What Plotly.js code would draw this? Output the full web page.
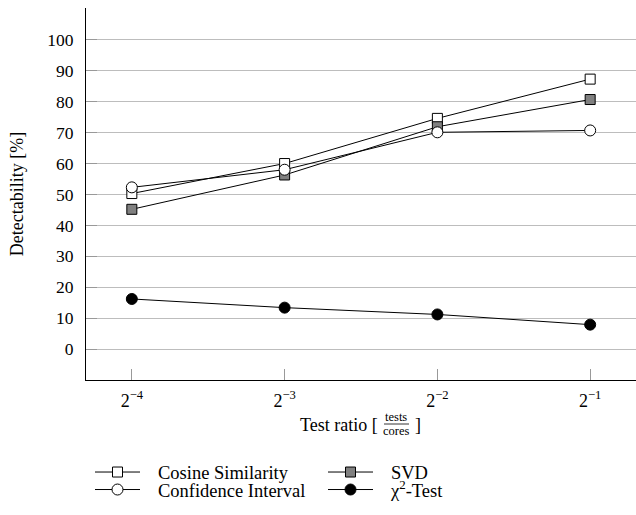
<!DOCTYPE html>
<html>
<head>
<meta charset="utf-8">
<script src="https://cdn.plot.ly/plotly-3.0.1.min.js"></script>
<style>html,body{margin:0;padding:0;background:#fff;}#chart{width:636px;height:515px;}</style>
</head>
<body>
<div id="chart"></div>
<script>
// Test ratios (tests / cores)
const testRatios = [0.0625, 0.125, 0.25, 0.5];
const tickLabels = ['2<sup>\u22124</sup>', '2<sup>\u22123</sup>', '2<sup>\u22122</sup>', '2<sup>\u22121</sup>'];
// Detectability [%]
const cosineSimilarity   = [50.3, 60.0, 74.6, 87.3];
const svd                = [45.2, 56.3, 71.9, 80.7];
const confidenceInterval = [52.3, 58.0, 70.1, 70.7];
const chiSquareTest      = [16.2, 13.4, 11.2, 7.9];
const yTicks = [0, 10, 20, 30, 40, 50, 60, 70, 80, 90, 100];

const FONT = 'Liberation Serif';
const FS = 18;
const LFS = 18.5;

function series(name, y, symbol, fill, size, legendId) {
  return {
    type: 'scatter', mode: 'lines+markers', name: name, legend: legendId,
    x: testRatios, y: y,
    line: {color: '#000', width: 1},
    marker: {symbol: symbol, size: size, color: fill, line: {color: '#000', width: 1}}
  };
}

const GAP = '\u2002\u2009';
const data = [
  series(GAP + 'Cosine Similarity', cosineSimilarity, 'square', '#fff', 10, 'legend'),
  series(GAP + 'SVD', svd, 'square', '#808080', 10, 'legend'),
  series(GAP + 'Confidence Interval', confidenceInterval, 'circle', '#fff', 11, 'legend2'),
  series(GAP + '\u03C7<sup>2</sup>-Test', chiSquareTest, 'circle', '#000', 11, 'legend2')
];

const L = 86, R = 636, T = 8, B = 380;
const px = v => (v - L) / (R - L);
const py = v => (B - v) / (B - T);

function legendAt(topPx) {
  return {
    orientation: 'h', x: px(90), xanchor: 'left', y: py(topPx), yanchor: 'top',
    font: {family: FONT, size: LFS}, entrywidth: 173, itemwidth: 45,
    bgcolor: 'rgba(0,0,0,0)', borderwidth: 0, traceorder: 'normal'
  };
}

const layout = {
  width: 636, height: 515,
  margin: {l: L, r: 636 - R, t: T, b: 515 - B, pad: 0},
  paper_bgcolor: '#fff', plot_bgcolor: '#fff',
  font: {family: FONT, size: FS, color: '#000'},
  showlegend: true,
  xaxis: {
    type: 'log',
    range: [Math.log10(Math.pow(2, -4.3)), Math.log10(Math.pow(2, -0.7))],
    tickvals: testRatios, ticktext: tickLabels,
    showgrid: false, zeroline: false,
    showline: true, linecolor: '#000', linewidth: 1,
    ticks: 'inside', ticklen: 11, tickcolor: '#999', tickwidth: 1,
    tickfont: {family: FONT, size: 18},
    ticklabelstandoff: 4,
    fixedrange: true
  },
  yaxis: {
    range: [-10, 110.3],
    tickvals: yTicks,
    showgrid: true, gridcolor: '#bdbdbd', gridwidth: 1,
    zeroline: false,
    showline: true, linecolor: '#000', linewidth: 1,
    ticks: 'inside', ticklen: 11, tickcolor: '#999', tickwidth: 1,
    tickfont: {family: FONT, size: 17.5},
    ticklabelstandoff: 8,
    title: {text: 'Detectability [%]', font: {family: FONT, size: FS}, standoff: 18},
    fixedrange: true
  },
  legend: legendAt(453.5),
  legend2: legendAt(471),
  annotations: [
    {xref: 'paper', yref: 'paper', x: px(380), y: py(425), xanchor: 'right', yanchor: 'middle',
     text: 'Test ratio [', showarrow: false, font: {family: FONT, size: FS}},
    {xref: 'paper', yref: 'paper', x: px(396), y: py(417), xanchor: 'center', yanchor: 'middle',
     text: 'tests', showarrow: false, font: {family: FONT, size: 12.5}},
    {xref: 'paper', yref: 'paper', x: px(396), y: py(431), xanchor: 'center', yanchor: 'middle',
     text: 'cores', showarrow: false, font: {family: FONT, size: 12.5}},
    {xref: 'paper', yref: 'paper', x: px(413), y: py(425), xanchor: 'left', yanchor: 'middle',
     text: ']', showarrow: false, font: {family: FONT, size: FS}}
  ],
  shapes: [
    {type: 'line', xref: 'paper', yref: 'paper', x0: px(384), x1: px(409), y0: py(424), y1: py(424),
     line: {color: '#000', width: 0.8}}
  ]
};

Plotly.newPlot('chart', data, layout, {displayModeBar: false, staticPlot: true});
</script>
</body>
</html>
